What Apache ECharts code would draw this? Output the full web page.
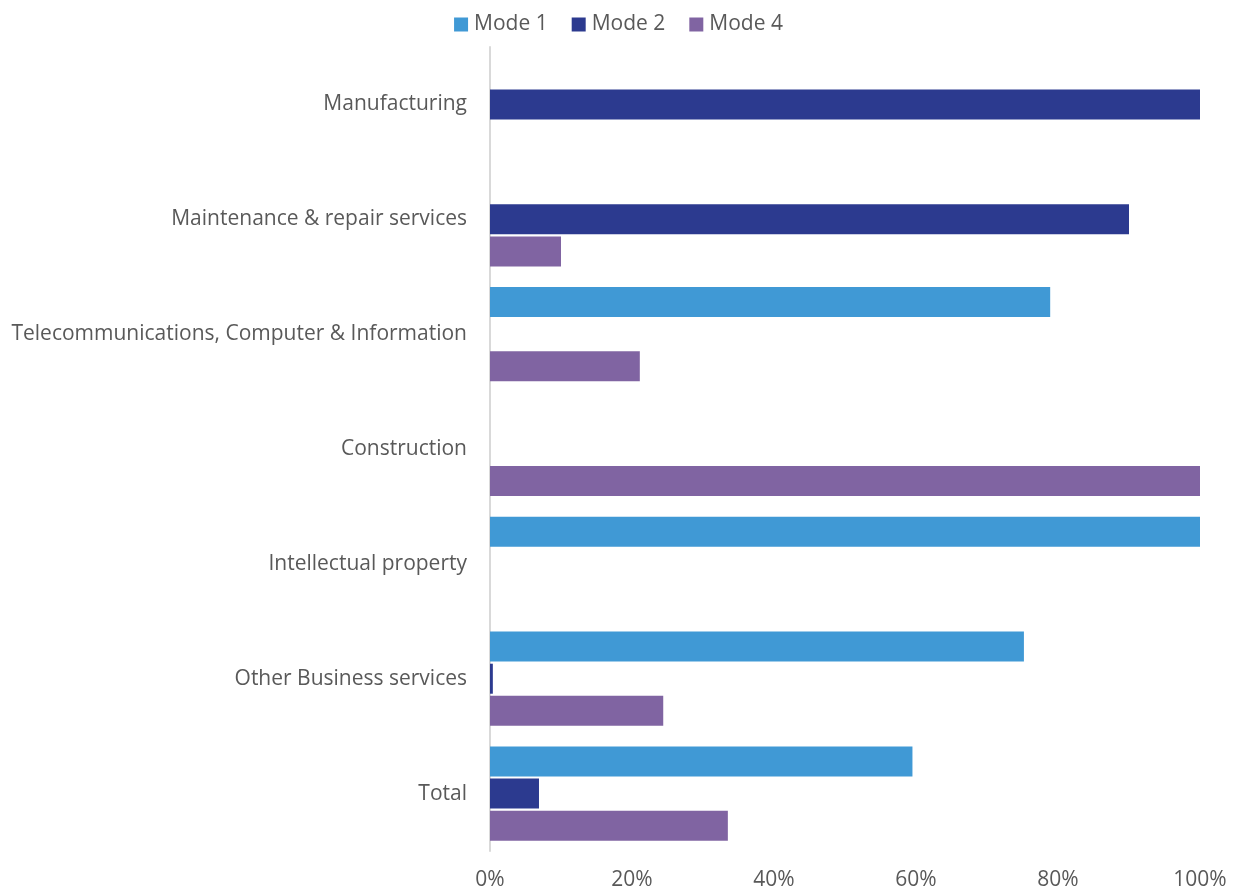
<!DOCTYPE html>
<html>
<head>
<meta charset="utf-8">
<script src="https://cdn.jsdelivr.net/npm/echarts@6/dist/echarts.min.js"></script>
<style>
  html, body { margin: 0; padding: 0; background: #fff; }
  #chart { width: 1237px; height: 891px; }
</style>
</head>
<body>
<div id="chart"></div>
<script>
// Share of trade by mode of supply, per sector
const categories = [
  'Manufacturing',
  'Maintenance & repair services',
  'Telecommunications, Computer & Information',
  'Construction',
  'Intellectual property',
  'Other Business services',
  'Total'
];
const mode1 = [0, 0, 78.9, 0, 100, 75.2, 59.5];
const mode2 = [100, 90, 0, 0, 0, 0.4, 6.9];
const mode4 = [0, 10, 21.1, 100, 0, 24.4, 33.5];
const seriesNames = ['Mode 1', 'Mode 2', 'Mode 4'];
const colors = ['#4099D5', '#2C3A8F', '#8064A2'];

const FONT = '"Open Sans", "Noto Sans", sans-serif';
const chart = echarts.init(document.getElementById('chart'), null, { renderer: 'canvas' });

const data = [mode1, mode2, mode4];
chart.setOption({
  animation: false,
  color: colors,
  legend: {
    top: 9,
    left: 'center',
    itemWidth: 14,
    itemHeight: 14,
    itemGap: 24,
    icon: 'rect',
    textStyle: { fontFamily: FONT, fontSize: 21, color: '#595959', padding: [0, 0, 0, 1] },
    data: seriesNames
  },
  grid: { left: 490, right: 37, top: 47, bottom: 38, containLabel: false },
  xAxis: {
    type: 'value',
    min: 0,
    max: 100,
    interval: 20,
    axisLine: { show: false },
    axisTick: { show: false },
    splitLine: { show: false },
    axisLabel: {
      formatter: '{value}%',
      margin: 19,
      fontFamily: FONT,
      fontSize: 21,
      color: '#595959'
    }
  },
  yAxis: {
    type: 'category',
    inverse: true,
    data: categories,
    axisLine: { show: true, lineStyle: { color: '#D9D9D9', width: 2 } },
    axisTick: { show: false },
    axisLabel: {
      margin: 23,
      fontFamily: FONT,
      fontSize: 21,
      color: '#595959',
      padding: [5, 0, 0, 0]
    }
  },
  series: seriesNames.map((name, i) => ({
    name,
    type: 'bar',
    data: data[i],
    barWidth: 30,
    barGap: '7%',
    itemStyle: { color: colors[i] }
  }))
});
</script>
</body>
</html>
